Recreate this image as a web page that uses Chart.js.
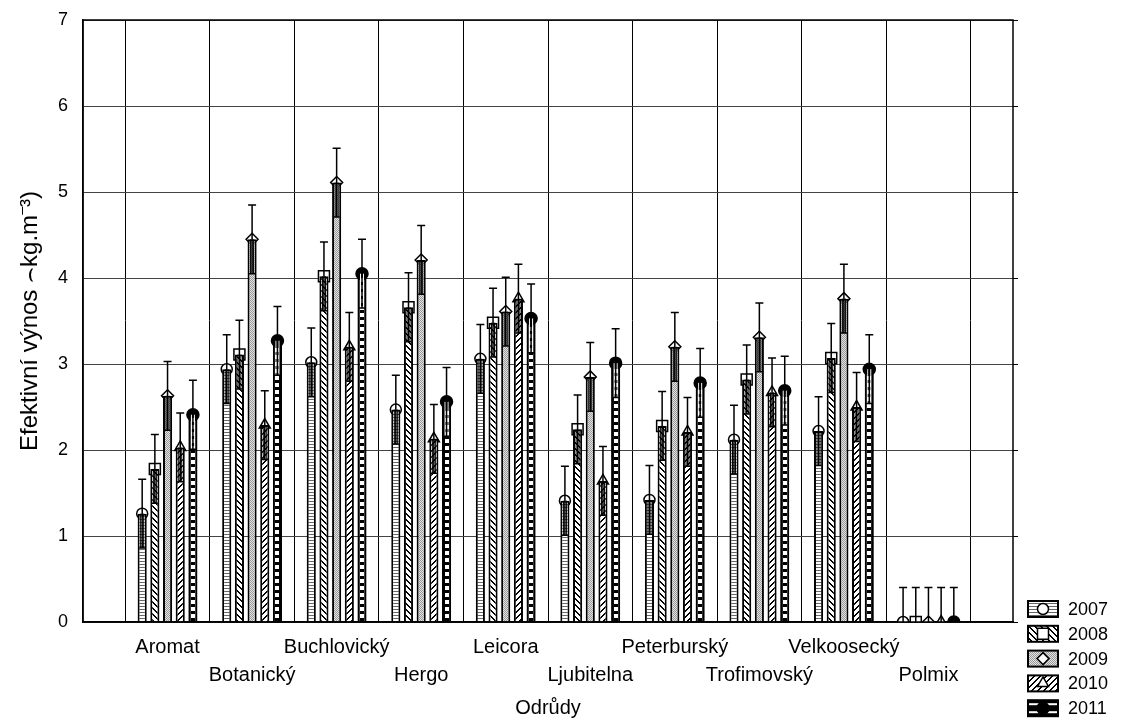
<!DOCTYPE html>
<html>
<head>
<meta charset="utf-8">
<script src="https://cdn.jsdelivr.net/npm/chart.js@4"></script>
<style>
  body { margin: 0; background: #fff; }
  canvas { display: block; }
</style>
</head>
<body>
<canvas id="myChart" width="1127" height="726"></canvas>
<script>
// data
const categories = ['Aromat', 'Botanický', 'Buchlovický', 'Hergo', 'Leicora', 'Ljubitelna', 'Peterburský', 'Trofimovský', 'Velkoosecký', 'Polmix'];
const years = ['2007', '2008', '2009', '2010', '2011'];
const y2007 = [1.26, 2.94, 3.02, 2.47, 3.06, 1.41, 1.42, 2.12, 2.22, 0];
const y2008 = [1.78, 3.11, 4.02, 3.66, 3.48, 2.24, 2.28, 2.82, 3.07, 0];
const y2009 = [2.63, 4.45, 5.11, 4.21, 3.61, 2.85, 3.20, 3.31, 3.76, 0];
const y2010 = [2.03, 2.29, 3.20, 2.13, 3.76, 1.64, 2.21, 2.67, 2.50, 0];
const y2011 = [2.41, 3.27, 4.05, 2.56, 3.53, 3.01, 2.78, 2.69, 2.94, 0];
const errorHalf = 0.4;
const yTicks = [0, 1, 2, 3, 4, 5, 6, 7];

const FONT = 'Liberation Sans, Arial, sans-serif';

// fill patterns
function makePattern(w, h, draw) {
  const c = document.createElement('canvas');
  c.width = w; c.height = h;
  const g = c.getContext('2d');
  draw(g);
  return g.createPattern(c, 'repeat');
}
const pat2007 = makePattern(1, 3, g => {
  g.fillStyle = '#fff'; g.fillRect(0, 0, 1, 3);
  g.fillStyle = '#666'; g.fillRect(0, 0, 1, 1);
});
const pat2008 = makePattern(6, 6, g => {
  g.fillStyle = '#fff'; g.fillRect(0, 0, 6, 6);
  g.fillStyle = '#000';
  for (let i = 0; i < 6; i++) { g.fillRect(i, i, 1, 1); g.fillRect((i + 1) % 6, i, 1, 1); }
});
const pat2009 = makePattern(2, 2, g => {
  g.fillStyle = '#e2e2e2'; g.fillRect(0, 0, 2, 2);
  g.fillStyle = '#9a9a9a'; g.fillRect(0, 0, 1, 1); g.fillRect(1, 1, 1, 1);
});
const pat2010 = makePattern(6, 6, g => {
  g.fillStyle = '#fff'; g.fillRect(0, 0, 6, 6);
  g.fillStyle = '#000';
  for (let i = 0; i < 6; i++) { g.fillRect(5 - i, i, 1, 1); g.fillRect((6 - i) % 6, i, 1, 1); }
});
const fills = [pat2007, pat2008, pat2009, pat2010, '#000'];
const markers = ['circle', 'square', 'diamond', 'triangle', 'dot'];

function drawMarker(ctx, type, x, y) {
  ctx.save();
  ctx.lineWidth = 1.5;
  ctx.strokeStyle = '#000';
  ctx.fillStyle = '#fff';
  ctx.beginPath();
  if (type === 'circle') {
    ctx.arc(x, y, 5.5, 0, Math.PI * 2);
  } else if (type === 'square') {
    ctx.rect(x - 5.5, y - 5.5, 11, 11);
  } else if (type === 'diamond') {
    ctx.moveTo(x, y - 6); ctx.lineTo(x + 6, y); ctx.lineTo(x, y + 6); ctx.lineTo(x - 6, y); ctx.closePath();
  } else if (type === 'triangle') {
    ctx.moveTo(x, y - 6.5); ctx.lineTo(x + 5.5, y + 3); ctx.lineTo(x - 5.5, y + 3); ctx.closePath();
  } else {
    ctx.arc(x, y, 6, 0, Math.PI * 2);
    ctx.fillStyle = '#000';
  }
  ctx.fill();
  ctx.stroke();
  ctx.restore();
}

const seriesData = [y2007, y2008, y2009, y2010, y2011];
const labels = [''].concat(categories.map((c, i) => i % 2 === 0 ? [c, ''] : ['', c]), ['']);

const decor = {
  id: 'decor',
  beforeDatasetsDraw(chart) {
    const ctx = chart.ctx, a = chart.chartArea;
    ctx.save();
    ctx.beginPath(); ctx.rect(a.left, a.top, a.right - a.left, a.bottom - a.top); ctx.clip();
    chart.data.datasets.forEach((ds, di) => {
      chart.getDatasetMeta(di).data.forEach((el, i) => {
        if (ds.data[i] === null) return;
        drawMarker(ctx, markers[di], el.x, el.y);
      });
    });
    ctx.restore();
  },
  afterDatasetsDraw(chart) {
    const ctx = chart.ctx, a = chart.chartArea, ys = chart.scales.y;
    ctx.save();
    ctx.beginPath(); ctx.rect(a.left, a.top, a.right - a.left, a.bottom - a.top); ctx.clip();
    // ladder holes in the 2011 bars
    chart.getDatasetMeta(4).data.forEach((el, i) => {
      if (chart.data.datasets[4].data[i] === null) return;
      ctx.fillStyle = '#fff';
      for (let yy = el.base - 6; yy > el.y + 4; yy -= 7) {
        ctx.fillRect(Math.round(el.x) - 2, Math.round(yy) - 2, 4, 4);
      }
    });
    chart.data.datasets.forEach((ds, di) => {
      chart.getDatasetMeta(di).data.forEach((el, i) => {
        const v = ds.data[i];
        if (v === null) return;
        const yTop = ys.getPixelForValue(v + errorHalf);
        const yLow = ys.getPixelForValue(v - errorHalf);
        const yMid = ys.getPixelForValue(v);
        ctx.strokeStyle = di === 4 ? '#fff' : '#000';
        ctx.lineWidth = 1;
        ctx.beginPath();
        ctx.moveTo(el.x - 1.5, yMid); ctx.lineTo(el.x - 1.5, yLow);
        ctx.moveTo(el.x + 1.5, yMid); ctx.lineTo(el.x + 1.5, yLow);
        ctx.stroke();
        ctx.strokeStyle = '#000';
        ctx.lineWidth = 1.5;
        ctx.beginPath();
        ctx.moveTo(el.x, yLow); ctx.lineTo(el.x, yTop);
        ctx.moveTo(el.x - 4, yTop); ctx.lineTo(el.x + 4, yTop);
        ctx.moveTo(el.x - 3, yLow); ctx.lineTo(el.x + 3, yLow);
        ctx.stroke();
      });
    });
    ctx.restore();
  },
  afterDraw(chart) {
    const ctx = chart.ctx, a = chart.chartArea, ys = chart.scales.y;
    ctx.save();
    ctx.strokeStyle = '#000';
    ctx.lineWidth = 1.5;
    ctx.strokeRect(a.left, a.top, a.right - a.left, a.bottom - a.top);
    ctx.lineWidth = 1;
    ctx.beginPath();
    yTicks.forEach(t => {
      const y = Math.round(ys.getPixelForValue(t)) + 0.5;
      ctx.moveTo(a.right, y); ctx.lineTo(a.right + 5, y);
    });
    ctx.stroke();
    // legend
    const lx = 1028, ly0 = 609, step = 24.8;
    years.forEach((yr, di) => {
      const cy = ly0 + di * step;
      ctx.fillStyle = fills[di];
      ctx.fillRect(lx, cy - 8, 30, 16);
      if (di === 4) {
        ctx.fillStyle = '#fff';
        ctx.fillRect(lx, cy - 5, 30, 2);
        ctx.fillRect(lx, cy + 3, 30, 2);
      }
      ctx.lineWidth = 2;
      ctx.strokeStyle = '#000';
      ctx.strokeRect(lx, cy - 8, 30, 16);
      drawMarker(ctx, markers[di], lx + 15, cy);
      ctx.fillStyle = '#000';
      ctx.font = '18px ' + FONT;
      ctx.textAlign = 'left';
      ctx.textBaseline = 'middle';
      ctx.fillText(yr, lx + 40, cy + 1);
    });
    ctx.restore();
  }
};

const data = {
  labels: labels,
  datasets: years.map((yr, di) => ({
    label: yr,
    data: [null].concat(seriesData[di], [null]),
    backgroundColor: fills[di],
    borderColor: '#000',
    borderWidth: 2,
    barPercentage: 0.72,
    categoryPercentage: 0.75
  }))
};

const config = {
  type: 'bar',
  data,
  options: {
    responsive: false,
    animation: false,
    layout: { padding: { top: 20, right: 114, left: 0, bottom: 0 } },
    plugins: { legend: { display: false }, tooltip: { enabled: false } },
    scales: {
      x: {
        offset: false,
        grid: { color: '#000', lineWidth: 1, drawTicks: false },
        border: { color: '#000', width: 1.5 },
        ticks: {
          autoSkip: false, maxRotation: 0, color: '#000', padding: 11,
          font: { family: FONT, size: 20, lineHeight: 1.4 }
        },
        title: {
          display: true, text: 'Odrůdy', color: '#000',
          font: { family: FONT, size: 20 }, padding: { top: 0, bottom: 6 }
        },
        afterFit(s) { s.height = 104; }
      },
      y: {
        min: 0, max: 7,
        afterBuildTicks(s) { s.ticks = yTicks.map(v => ({ value: v })); },
        grid: { color: '#444', lineWidth: 1, drawTicks: true, tickLength: 11, tickColor: 'rgba(0,0,0,0)' },
        border: { color: '#000', width: 1.5 },
        ticks: { color: '#000', padding: 4, font: { family: FONT, size: 18 } },
        title: {
          display: true, text: 'Efektivní výnos ⌢kg.m⁻³)', color: '#000',
          font: { family: FONT, size: 24 }, padding: { top: 16, bottom: 0 }
        },
        afterFit(s) { s.width = 83; }
      }
    }
  },
  plugins: [decor]
};

const myChart = new Chart(document.getElementById('myChart'), config);
</script>
</body>
</html>
